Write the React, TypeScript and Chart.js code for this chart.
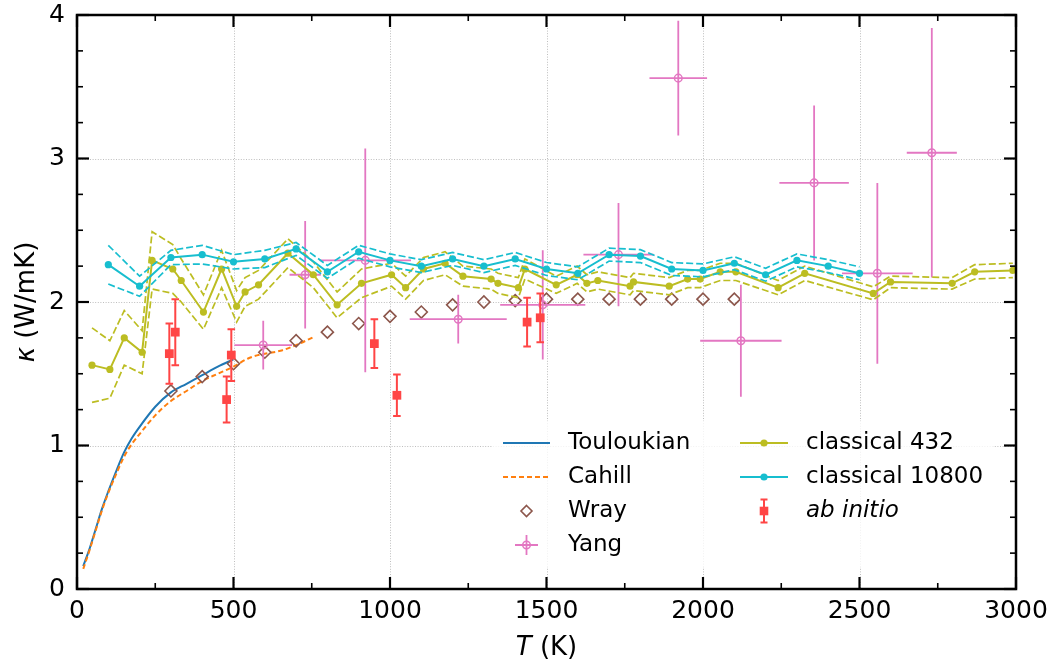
import React, { useEffect, useRef } from "react";
import { Chart, registerables } from "chart.js";

Chart.register(...registerables);

const FONT = "'DejaVu Sans', 'Liberation Sans', sans-serif";

// Touloukian recommended curve
const touloukianT = [20, 40, 60, 80, 100, 125, 150, 175, 200, 250, 300, 350, 400, 450, 500];
const touloukianK = [0.16, 0.28, 0.42, 0.56, 0.68, 0.82, 0.95, 1.05, 1.13, 1.27, 1.37, 1.43, 1.49, 1.55, 1.6];

// Cahill measurements
const cahillT = [20, 40, 60, 80, 100, 125, 150, 175, 200, 250, 300, 350, 400, 450, 500, 550, 600, 650, 700, 760];
const cahillK = [0.14, 0.27, 0.41, 0.55, 0.67, 0.8, 0.92, 1.01, 1.08, 1.21, 1.31, 1.38, 1.45, 1.5, 1.55, 1.61, 1.64, 1.66, 1.7, 1.76];

// Wray
const wrayT = [300, 400, 500, 600, 700, 800, 900, 1000, 1100, 1200, 1300, 1400, 1500, 1600, 1700, 1800, 1900, 2000, 2100];
const wrayK = [1.38, 1.48, 1.57, 1.65, 1.73, 1.79, 1.85, 1.9, 1.93, 1.98, 2.0, 2.01, 2.02, 2.02, 2.02, 2.02, 2.02, 2.02, 2.02];

// Yang (with x and y uncertainties)
const yangT = [595, 729, 921, 1218, 1488, 1730, 1921, 2121, 2355, 2557, 2731];
const yangK = [1.7, 2.19, 2.29, 1.88, 1.98, 2.33, 3.56, 1.73, 2.83, 2.2, 3.04];
const yangErrK = [0.17, 0.375, 0.78, 0.17, 0.38, 0.36, 0.4, 0.39, 0.54, 0.63, 0.87];
const yangErrT = [92, 50, 146, 155, 136, 112, 92, 130, 111, 113, 80];

// classical MD, 432 atoms (mean and uncertainty band half-width)
const c432T = [48, 105, 151, 208, 240, 306, 333, 404, 462, 510, 537, 580, 674, 755, 831, 909, 1005, 1050, 1107, 1176, 1233, 1323, 1345, 1410, 1431, 1531, 1598, 1629, 1664, 1767, 1778, 1892, 1951, 1991, 2055, 2105, 2240, 2325, 2544, 2599, 2796, 2868, 2990];
const c432K = [1.56, 1.53, 1.75, 1.65, 2.29, 2.23, 2.15, 1.93, 2.23, 1.97, 2.07, 2.12, 2.34, 2.19, 1.98, 2.13, 2.19, 2.1, 2.23, 2.27, 2.18, 2.16, 2.13, 2.1, 2.23, 2.12, 2.19, 2.13, 2.15, 2.11, 2.14, 2.11, 2.16, 2.16, 2.21, 2.21, 2.1, 2.2, 2.06, 2.14, 2.13, 2.21, 2.22];
const c432Err = [0.26, 0.2, 0.19, 0.15, 0.2, 0.17, 0.15, 0.12, 0.13, 0.11, 0.1, 0.1, 0.1, 0.09, 0.09, 0.1, 0.08, 0.08, 0.08, 0.08, 0.07, 0.07, 0.07, 0.07, 0.07, 0.06, 0.06, 0.06, 0.06, 0.06, 0.06, 0.06, 0.06, 0.06, 0.06, 0.06, 0.05, 0.05, 0.045, 0.04, 0.04, 0.05, 0.05];

// classical MD, 10800 atoms
const c10800T = [100, 200, 300, 400, 500, 600, 700, 800, 900, 1000, 1100, 1200, 1300, 1400, 1500, 1600, 1700, 1800, 1900, 2000, 2100, 2200, 2300, 2400, 2500];
const c10800K = [2.26, 2.11, 2.31, 2.33, 2.28, 2.3, 2.37, 2.21, 2.35, 2.29, 2.25, 2.3, 2.25, 2.3, 2.23, 2.2, 2.33, 2.32, 2.23, 2.22, 2.27, 2.19, 2.29, 2.25, 2.2];
const c10800Err = [0.135, 0.07, 0.05, 0.065, 0.05, 0.06, 0.045, 0.045, 0.045, 0.045, 0.045, 0.045, 0.045, 0.045, 0.045, 0.045, 0.045, 0.045, 0.045, 0.045, 0.045, 0.045, 0.045, 0.045, 0.045];

// ab initio
const abT = [295, 314, 478, 493, 950, 1022, 1438, 1480];
const abK = [1.64, 1.79, 1.32, 1.63, 1.71, 1.35, 1.86, 1.89];
const abErr = [0.21, 0.23, 0.16, 0.18, 0.17, 0.145, 0.17, 0.17];

// axis ticks
const xMajor = [0, 500, 1000, 1500, 2000, 2500, 3000];
const yMajor = [0, 1, 2, 3, 4];

const C_TOU = "#1f77b4";
const C_CAH = "#ff7f0e";
const C_WRAY = "#8c564b";
const C_YANG = "#e377c2";
const C_432 = "#bcbd22";
const C_10800 = "#17becf";
const C_AB = "#ff4545";

const pts = (xs: number[], ys: number[]) => xs.map((x, i) => ({ x, y: ys[i] }));
const band = (xs: number[], ys: number[], d: number[], s: number) =>
  xs.map((x, i) => ({ x, y: ys[i] + s * d[i] }));

const lineDs = (label: string, data: any[], color: string, width: number, dash: number[], order: number, extra: any = {}) => ({
  label,
  data,
  showLine: true,
  borderColor: color,
  backgroundColor: color,
  borderWidth: width,
  borderDash: dash,
  pointRadius: 0,
  fill: false,
  tension: 0,
  order,
  ...extra,
});

// error bars drawn under each dataset's markers
const errorBars = {
  id: "errorBars",
  beforeDatasetDraw(chart: any, args: any) {
    const ds = chart.data.datasets[args.index];
    if (!ds.errY) return;
    const xs = chart.scales.x;
    const ys = chart.scales.y;
    const ctx = chart.ctx;
    ctx.save();
    ctx.strokeStyle = ds.errColor;
    ctx.lineWidth = ds.errWidth;
    ds.data.forEach((p: any, i: number) => {
      const px = xs.getPixelForValue(p.x);
      const py = ys.getPixelForValue(p.y);
      const top = ys.getPixelForValue(p.y + ds.errY[i]);
      const bot = ys.getPixelForValue(p.y - ds.errY[i]);
      ctx.beginPath();
      ctx.moveTo(px, top);
      ctx.lineTo(px, bot);
      if (ds.errX) {
        ctx.moveTo(xs.getPixelForValue(p.x - ds.errX[i]), py);
        ctx.lineTo(xs.getPixelForValue(p.x + ds.errX[i]), py);
      }
      if (ds.cap) {
        ctx.moveTo(px - ds.cap, top);
        ctx.lineTo(px + ds.cap, top);
        ctx.moveTo(px - ds.cap, bot);
        ctx.lineTo(px + ds.cap, bot);
      }
      ctx.stroke();
    });
    ctx.restore();
  },
};

// dotted grid at major ticks
const gridPlugin = {
  id: "dottedGrid",
  beforeDatasetsDraw(chart: any) {
    const { ctx, chartArea: a, scales } = chart;
    ctx.save();
    ctx.strokeStyle = "rgba(130,130,130,0.65)";
    ctx.lineWidth = 0.8;
    ctx.setLineDash([1, 1.6]);
    xMajor.slice(1, -1).forEach((v) => {
      const px = Math.round(scales.x.getPixelForValue(v)) + 0.5;
      ctx.beginPath();
      ctx.moveTo(px, a.top);
      ctx.lineTo(px, a.bottom);
      ctx.stroke();
    });
    yMajor.slice(1, -1).forEach((v) => {
      const py = Math.round(scales.y.getPixelForValue(v)) + 0.5;
      ctx.beginPath();
      ctx.moveTo(a.left, py);
      ctx.lineTo(a.right, py);
      ctx.stroke();
    });
    ctx.restore();
  },
};

// frame with inward ticks on all four sides
const framePlugin = {
  id: "frame",
  afterDatasetsDraw(chart: any) {
    const { ctx, chartArea: a, scales } = chart;
    ctx.save();
    ctx.strokeStyle = "#000";
    const tick = (x1: number, y1: number, x2: number, y2: number, w: number) => {
      ctx.lineWidth = w;
      ctx.beginPath();
      ctx.moveTo(x1, y1);
      ctx.lineTo(x2, y2);
      ctx.stroke();
    };
    for (let v = 0; v <= 3000; v += 250) {
      const major = v % 500 === 0;
      const len = major ? 12 : 6;
      const w = major ? 2.2 : 1.6;
      const px = scales.x.getPixelForValue(v);
      tick(px, a.bottom, px, a.bottom - len, w);
      tick(px, a.top, px, a.top + len, w);
    }
    for (let v = 0; v <= 4; v += 0.25) {
      const major = Math.abs(v - Math.round(v)) < 1e-6;
      const len = major ? 12 : 6;
      const w = major ? 2.2 : 1.6;
      const py = scales.y.getPixelForValue(v);
      tick(a.left, py, a.left + len, py, w);
      tick(a.right, py, a.right - len, py, w);
    }
    ctx.lineWidth = 2.5;
    ctx.strokeRect(a.left, a.top, a.right - a.left, a.bottom - a.top);
    ctx.restore();
  },
};

// axis titles with italic symbols
const titlesPlugin = {
  id: "axisTitles",
  afterDraw(chart: any) {
    const { ctx, chartArea: a } = chart;
    ctx.save();
    ctx.fillStyle = "#000";
    ctx.textBaseline = "middle";
    ctx.textAlign = "left";
    const it = `italic 26px ${FONT}`;
    const rg = `26px ${FONT}`;
    // x title
    ctx.font = it;
    const wT = ctx.measureText("T").width;
    ctx.font = rg;
    const wK = ctx.measureText(" (K)").width;
    let x0 = (a.left + a.right) / 2 - (wT + wK) / 2;
    const yx = 648;
    ctx.font = it;
    ctx.fillText("T", x0, yx);
    ctx.font = rg;
    ctx.fillText(" (K)", x0 + wT, yx);
    // y title
    ctx.translate(27, (a.top + a.bottom) / 2);
    ctx.rotate(-Math.PI / 2);
    ctx.font = it;
    const wk = ctx.measureText("κ").width;
    ctx.font = rg;
    const wu = ctx.measureText(" (W/mK)").width;
    x0 = -(wk + wu) / 2;
    ctx.font = it;
    ctx.fillText("κ", x0, 0);
    ctx.font = rg;
    ctx.fillText(" (W/mK)", x0 + wk, 0);
    ctx.restore();
  },
};

// legend in two columns
const legendPlugin = {
  id: "customLegend",
  afterDraw(chart: any) {
    const ctx = chart.ctx;
    ctx.save();
    ctx.fillStyle = "rgba(255,255,255,0.8)";
    ctx.beginPath();
    (ctx as any).roundRect ? (ctx as any).roundRect(493, 421, 500, 146, 4) : ctx.rect(493, 421, 500, 146);
    ctx.fill();

    const rows = [443, 477, 511, 545];
    const c1 = { x0: 503, x1: 550, tx: 568 };
    const c2 = { x0: 740, x1: 788, tx: 806 };
    const line = (c: any, y: number, color: string, dash: number[], w: number) => {
      ctx.strokeStyle = color;
      ctx.lineWidth = w;
      ctx.setLineDash(dash);
      ctx.beginPath();
      ctx.moveTo(c.x0, y);
      ctx.lineTo(c.x1, y);
      ctx.stroke();
      ctx.setLineDash([]);
    };
    const dot = (x: number, y: number, r: number, color: string) => {
      ctx.fillStyle = color;
      ctx.beginPath();
      ctx.arc(x, y, r, 0, Math.PI * 2);
      ctx.fill();
    };
    const mid1 = (c1.x0 + c1.x1) / 2;
    const mid2 = (c2.x0 + c2.x1) / 2;

    line(c1, rows[0], C_TOU, [], 2);
    line(c1, rows[1], C_CAH, [5, 3], 2);
    // diamond
    ctx.strokeStyle = C_WRAY;
    ctx.lineWidth = 1.6;
    ctx.beginPath();
    ctx.moveTo(mid1, rows[2] - 5.5);
    ctx.lineTo(mid1 + 5.5, rows[2]);
    ctx.lineTo(mid1, rows[2] + 5.5);
    ctx.lineTo(mid1 - 5.5, rows[2]);
    ctx.closePath();
    ctx.stroke();
    // circle with cross
    ctx.strokeStyle = C_YANG;
    ctx.lineWidth = 1.8;
    ctx.beginPath();
    ctx.moveTo(mid1 - 11.5, rows[3]);
    ctx.lineTo(mid1 + 11.5, rows[3]);
    ctx.moveTo(mid1, rows[3] - 10);
    ctx.lineTo(mid1, rows[3] + 10);
    ctx.stroke();
    ctx.lineWidth = 1.5;
    ctx.beginPath();
    ctx.arc(mid1, rows[3], 3.8, 0, Math.PI * 2);
    ctx.stroke();

    line(c2, rows[0], C_432, [], 2);
    dot(mid2, rows[0], 3.6, C_432);
    line(c2, rows[1], C_10800, [], 2);
    dot(mid2, rows[1], 3.6, C_10800);
    // square with error bar
    ctx.strokeStyle = C_AB;
    ctx.lineWidth = 2;
    ctx.beginPath();
    ctx.moveTo(mid2, rows[2] - 11.5);
    ctx.lineTo(mid2, rows[2] + 11.5);
    ctx.moveTo(mid2 - 3.5, rows[2] - 11.5);
    ctx.lineTo(mid2 + 3.5, rows[2] - 11.5);
    ctx.moveTo(mid2 - 3.5, rows[2] + 11.5);
    ctx.lineTo(mid2 + 3.5, rows[2] + 11.5);
    ctx.stroke();
    ctx.fillStyle = C_AB;
    ctx.fillRect(mid2 - 4.3, rows[2] - 4.3, 8.6, 8.6);

    ctx.fillStyle = "#000";
    ctx.textBaseline = "middle";
    ctx.textAlign = "left";
    ctx.font = `23px ${FONT}`;
    ctx.fillText("Touloukian", c1.tx, rows[0]);
    ctx.fillText("Cahill", c1.tx, rows[1]);
    ctx.fillText("Wray", c1.tx, rows[2]);
    ctx.fillText("Yang", c1.tx, rows[3]);
    ctx.fillText("classical 432", c2.tx, rows[0]);
    ctx.fillText("classical 10800", c2.tx, rows[1]);
    ctx.font = `italic 23px ${FONT}`;
    ctx.fillText("ab initio", c2.tx, rows[2]);
    ctx.restore();
  },
};

export default function App() {
  const ref = useRef<HTMLCanvasElement | null>(null);

  useEffect(() => {
    if (!ref.current) return;
    const datasets: any[] = [
      lineDs("Touloukian", pts(touloukianT, touloukianK), C_TOU, 2, [], 20, { cubicInterpolationMode: "monotone" }),
      lineDs("Cahill", pts(cahillT, cahillK), C_CAH, 2, [5, 3], 19, { cubicInterpolationMode: "monotone" }),
      {
        label: "Wray",
        data: pts(wrayT, wrayK),
        showLine: false,
        pointStyle: "rectRot",
        pointRadius: 6,
        pointBorderWidth: 1.6,
        pointBorderColor: C_WRAY,
        pointBackgroundColor: "rgba(0,0,0,0)",
        borderColor: C_WRAY,
        order: 18,
      },
      {
        label: "Yang",
        data: pts(yangT, yangK),
        showLine: false,
        pointStyle: "circle",
        pointRadius: 3.8,
        pointBorderWidth: 1.5,
        pointBorderColor: C_YANG,
        pointBackgroundColor: "rgba(0,0,0,0)",
        borderColor: C_YANG,
        errY: yangErrK,
        errX: yangErrT,
        errColor: C_YANG,
        errWidth: 1.8,
        order: 17,
      },
      lineDs("classical 432 lower", band(c432T, c432K, c432Err, -1), C_432, 1.7, [7, 3], 16),
      lineDs("classical 432 upper", band(c432T, c432K, c432Err, 1), C_432, 1.7, [7, 3], 15),
      lineDs("classical 432", pts(c432T, c432K), C_432, 2, [], 14, {
        pointRadius: 3.6,
        pointBorderWidth: 0,
        pointBackgroundColor: C_432,
      }),
      lineDs("classical 10800 lower", band(c10800T, c10800K, c10800Err, -1), C_10800, 1.7, [7, 3], 13),
      lineDs("classical 10800 upper", band(c10800T, c10800K, c10800Err, 1), C_10800, 1.7, [7, 3], 12),
      lineDs("classical 10800", pts(c10800T, c10800K), C_10800, 2, [], 11, {
        pointRadius: 3.6,
        pointBorderWidth: 0,
        pointBackgroundColor: C_10800,
      }),
      {
        label: "ab initio",
        data: pts(abT, abK),
        showLine: false,
        pointStyle: "rect",
        pointRadius: 6.2,
        pointBorderWidth: 0,
        pointBackgroundColor: C_AB,
        borderColor: C_AB,
        errY: abErr,
        cap: 3.8,
        errColor: C_AB,
        errWidth: 2,
        order: 10,
      },
    ];

    const chart = new Chart(ref.current, {
      type: "scatter",
      data: { datasets },
      options: {
        animation: false,
        responsive: false,
        maintainAspectRatio: false,
        events: [],
        layout: { padding: { left: 0, right: 42, top: 15, bottom: 0 } },
        plugins: {
          legend: { display: false },
          tooltip: { enabled: false },
          title: { display: false },
        },
        scales: {
          x: {
            type: "linear",
            min: 0,
            max: 3000,
            afterBuildTicks: (s: any) => {
              s.ticks = xMajor.map((v) => ({ value: v }));
            },
            ticks: {
              color: "#000",
              font: { family: FONT, size: 25 },
              padding: 7,
              maxRotation: 0,
              autoSkip: false,
              callback: (v: any) => String(v),
            },
            grid: { display: false, drawTicks: false },
            border: { display: false },
            afterFit: (s: any) => {
              s.height = 75;
              s.paddingLeft = 0;
              s.paddingRight = 0;
            },
          },
          y: {
            type: "linear",
            min: 0,
            max: 4,
            afterBuildTicks: (s: any) => {
              s.ticks = yMajor.map((v) => ({ value: v }));
            },
            ticks: {
              color: "#000",
              font: { family: FONT, size: 25 },
              padding: 12,
              autoSkip: false,
              callback: (v: any) => String(v),
            },
            grid: { display: false, drawTicks: false },
            border: { display: false },
            afterFit: (s: any) => {
              s.width = 77;
              s.paddingTop = 0;
              s.paddingBottom = 0;
            },
          },
        },
      } as any,
      plugins: [gridPlugin, errorBars, framePlugin, legendPlugin, titlesPlugin],
    });
    return () => chart.destroy();
  }, []);

  return (
    <div style={{ position: "fixed", left: 0, top: 0, width: 1058, height: 664, background: "#fff" }}>
      <canvas ref={ref} width={1058} height={664} style={{ width: 1058, height: 664, display: "block" }} />
    </div>
  );
}
